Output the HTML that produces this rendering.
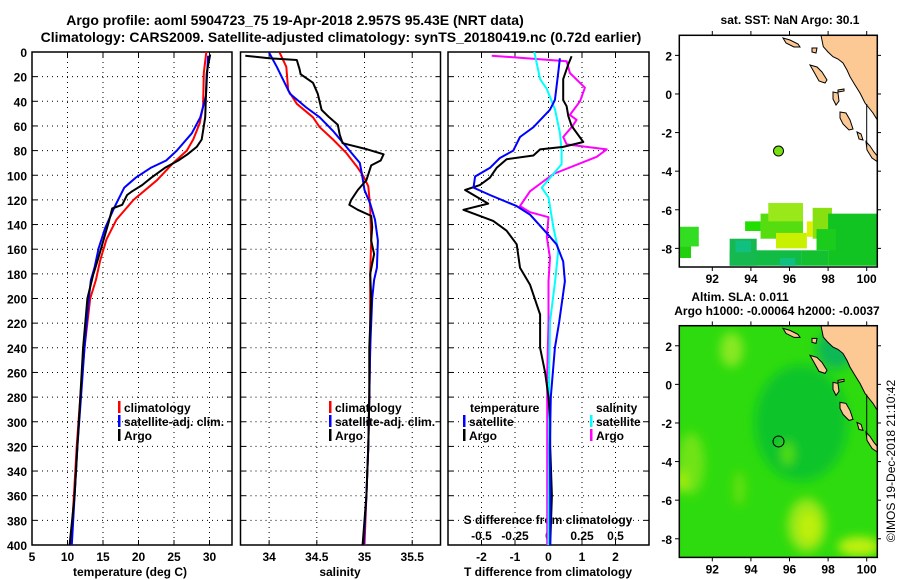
<!DOCTYPE html>
<html><head><meta charset="utf-8"><style>
html,body{margin:0;padding:0;background:#fff}
svg{display:block;font-family:"Liberation Sans",sans-serif;font-weight:bold}
</style></head><body>
<svg id="c" width="900" height="580" viewBox="0 0 900 580" xmlns="http://www.w3.org/2000/svg">
<text x="295" y="25" font-size="14" text-anchor="middle">Argo profile: aoml 5904723_75 19-Apr-2018 2.957S 95.43E (NRT data)</text>
<text x="341" y="42" font-size="14" text-anchor="middle">Climatology: CARS2009. Satellite-adjusted climatology: synTS_20180419.nc (0.72d earlier)</text>
<g id="g"></g>
</svg>
<script>
// ---------- data ----------
const depthTicks=[0,20,40,60,80,100,120,140,160,180,200,220,240,260,280,300,320,340,360,380,400];
const tempTicks=[5,10,15,20,25,30];
const salTicks=[34,34.5,35,35.5];
const dTTicks=[-2,-1,0,1,2];
const dSTicks=[-0.5,-0.25,0,0.25,0.5];
const dSTickLabels=["-0.5","-0.25","0","0.25","0.5"];
const latTicks=[2,0,-2,-4,-6,-8];
const lonTicks=[92,94,96,98,100];

const climDepth=[0,17,44,58,71,80,90,104,120,136,152,169,185,200,240,280,320,360,400];
const climTemp=[29.55,29.2,29.1,28.6,27.7,26.8,24.9,22.6,19.3,16.9,15.5,14.6,14.0,13.2,12.4,11.8,11.3,10.9,10.5];
const satDepth=[3,36,53,66,80,88,94,102,110,126,143,159,175,185,200,240,280,320,360,400];
const satTemp=[29.8,29.5,28.7,27.5,25.4,23.9,21.7,19.6,18.0,16.6,15.3,14.4,13.8,13.3,13.0,12.4,11.9,11.4,11.0,10.6];
const argoDepthT=[2,17,53,71,77,83,88,94,102,108,113,116,124,127,138,156,170,181,200,240,280,320,360,400];
const argoTemp=[30.1,29.6,29.4,28.9,28.2,26.9,25.6,23.7,21.8,20.5,19.1,18.4,17.7,16.3,15.8,14.9,14.2,13.6,12.8,12.2,11.8,11.4,11.0,10.3];

const climSDepth=[0.5,12,31,42,53,61,71,82,93,101,109,126,153,180,200,240,280,320,360,400];
const climSal=[34.11,34.18,34.20,34.29,34.46,34.53,34.67,34.81,34.92,34.99,35.04,35.06,35.07,35.06,35.06,35.06,35.05,35.04,35.02,35.0];
const satSDepth=[0.5,12,23,34,45,53,64,77,90,98,112,123,136,153,175,185,200,240,280,320,360,400];
const satSal=[34.0,34.08,34.15,34.22,34.39,34.53,34.67,34.81,34.95,34.97,35.0,35.06,35.11,35.14,35.13,35.1,35.08,35.06,35.05,35.04,35.02,34.99];
const argoSDepth=[3,5,6.5,14,18,25,34,47,53,59,67,74,79,83,88,92,104,112,120,124,128,133,142,153,164,180,200,240,280,320,360,400];
const argoSal=[33.75,34.0,34.29,34.32,34.33,34.46,34.51,34.55,34.63,34.72,34.74,34.77,35.03,35.20,35.17,35.07,35.02,34.93,34.86,34.84,34.93,35.07,35.08,35.07,35.1,35.06,35.07,35.05,35.05,35.04,35.02,34.98];

const dTsatDepth=[5,17,39,47,61,69,80,86,94,101,110,116,125,132,147,156,170,186,205,219,240,280,320,360,400];
const dTsat=[0.34,0.29,0.19,0.04,-0.45,-0.85,-1.05,-1.45,-1.75,-2.19,-2.24,-1.75,-0.95,-0.55,-0.05,0.24,0.44,0.49,0.39,0.32,0.19,0.07,0.04,0.05,0.05];
const dTargoDepth=[3.5,10,22,39,44,52,60,73,77,79,84,87,94,102,108,112,123,128,132,137,145,156,175,189,213,240,260,280,300,320,360,400];
const dTargo=[0.69,0.59,0.44,0.44,0.54,0.59,0.69,1.04,0.44,-0.25,-0.45,-1.25,-1.55,-1.75,-2.05,-2.49,-1.8,-2.54,-2.15,-1.65,-1.25,-0.95,-0.85,-0.55,-0.25,-0.25,-0.1,0,0.05,0.05,0.1,0.05];
const dSsatDepth=[0,22,30,47,66,80,91,99,110,118,142,161,186,219,260,300,340,400];
const dSsat=[-0.106,-0.063,-0.013,0.049,0.086,0.098,0.098,0.036,-0.051,0,0.036,0.073,0.049,0.011,0.005,0.003,0.002,0.0];
const dSargoDepth=[3,7.5,17,29,40,51,55,60,69,75,79,85,99,113,125,130,134,150,167,186,219,260,300,340,400];
const dSargo=[-0.424,0.136,0.16,0.272,0.235,0.16,0.21,0.18,0.11,0.136,0.434,0.36,0.036,-0.138,-0.213,-0.138,0,-0.013,0.011,0,0,-0.01,-0.01,-0.01,-0.01];

// SST cells: lon0, lat0, lon1, lat1, colour
const sstCells=[
 [90.29,-6.88,91.3,-7.9,"#33dd22"],[90.29,-7.9,90.9,-8.5,"#22d010"],
 [92.9,-8.1,96.6,-8.9,"#11bb44"],[92.9,-7.5,94.3,-8.9,"#16b850"],[93.2,-7.6,94.0,-8.2,"#10c080"],
 [93.7,-6.6,94.5,-7.1,"#22dd00"],[94.5,-6.2,96.7,-7.5,"#55dd10"],
 [94.9,-5.65,96.7,-6.6,"#99e81a"],[95.3,-7.2,96.9,-8.0,"#c8f000"],
 [97.2,-5.9,98.2,-7.5,"#88e010"],[96.9,-6.6,97.2,-7.4,"#e0f000"],
 [98.0,-6.2,100.55,-8.9,"#11c422"],[96.6,-8.1,98.0,-8.9,"#12c030"],
 [95.5,-8.5,96.3,-8.9,"#10c080"],[97.4,-7.0,98.4,-8.1,"#1ccc1c"]
];
// SLA blobs: lon, lat, rx(deg), ry(deg), colour
const slaBlobs=[
 [96.6,-2.0,2.4,3.0,"#11c52a"],[98.4,1.8,1.0,1.0,"#10b855"],
 [93.0,1.8,0.6,0.9,"#88e822"],[90.9,-4.1,0.7,1.6,"#70e313"],[90.4,-5.0,0.3,0.6,"#a8ee10"],
 [93.4,-5.4,0.3,0.9,"#66e010"],[95.9,-3.6,0.3,0.6,"#55e010"],
 [96.9,-7.3,1.0,1.4,"#99e812"],[97.0,-7.4,0.5,0.8,"#bff010"],[99.6,-8.4,1.1,0.5,"#c0f010"]
];

// ---------- scales ----------
const dy=d=>52+d*1.2325;
const tx=t=>32+(t-5)*7.1;
const sx=s=>240.5+(s-33.70)*95.4;
const dtx=v=>548.5+v*33.5;
const dsx=v=>548.5+v*134;
const lonx=l=>679.3+(l-90.29)*19.3;
const laty=(l,off)=>35.3+off+(3.04-l)*19.3;
const MW=198, MH=231.7;

const NS="http://www.w3.org/2000/svg";
const G=document.getElementById('g');
function mk(tag,attrs,parent){const e=document.createElementNS(NS,tag);for(const k in attrs)e.setAttribute(k,attrs[k]);(parent||G).appendChild(e);return e;}
function txt(x,y,s,size,anchor,name){const e=mk('text',{x:x,y:y,'font-size':size,'text-anchor':anchor});e.textContent=s;


return e;}

// ---------- profile panels ----------
const panels=[{x0:32,x1:232,name:'temperature-panel'},{x0:240.5,x1:440.5,name:'salinity-panel'},{x0:448,x1:649,name:'difference-panel'}];
const grids=[tempTicks.slice(1).map(tx),salTicks.map(sx),dTTicks.map(dtx)];
panels.forEach((p,i)=>{
  const g=mk('g',{});
  
  
  depthTicks.forEach(d=>{
    if(d>0&&d<400) mk('line',{x1:p.x0,x2:p.x1,y1:dy(d),y2:dy(d),stroke:'#000','stroke-width':1,'stroke-dasharray':'1,4'},g);
    mk('line',{x1:p.x0,x2:p.x0+5,y1:dy(d),y2:dy(d),stroke:'#000'},g);
    mk('line',{x1:p.x1-5,x2:p.x1,y1:dy(d),y2:dy(d),stroke:'#000'},g);
  });
  grids[i].forEach(x=>{
    mk('line',{x1:x,x2:x,y1:52,y2:545,stroke:'#000','stroke-width':1,'stroke-dasharray':'1,4'},g);
    mk('line',{x1:x,x2:x,y1:52,y2:57,stroke:'#000'},g);
    mk('line',{x1:x,x2:x,y1:540,y2:545,stroke:'#000'},g);
  });
  mk('rect',{x:p.x0,y:52,width:p.x1-p.x0,height:493,fill:'none',stroke:'#000','stroke-width':1.5},g);
});
depthTicks.forEach(d=>txt(27,dy(d)+5,String(d),12,'end','depth-tick-label'));
tempTicks.forEach(t=>txt(tx(t),561,String(t),12,'middle','temperature-tick-label'));
salTicks.forEach(s=>txt(sx(s),561,String(s),12,'middle','salinity-tick-label'));
dTTicks.forEach(v=>txt(dtx(v),561,String(v),12,'middle','t-diff-tick-label'));
dSTicks.forEach((v,i)=>txt(dsx(v),540,dSTickLabels[i],12,'middle','s-diff-tick-label'));
txt(130,576,'temperature (deg C)',12,'middle','temperature-axis-title');
txt(340,576,'salinity',12,'middle','salinity-axis-title');
txt(548,576,'T difference from climatology',12,'middle','t-diff-axis-title');
txt(548,524,'S difference from climatology',12,'middle','s-diff-axis-title');

function series(xs,ds,fx,color,name){
  const pts=xs.map((v,i)=>fx(v).toFixed(1)+','+dy(ds[i]).toFixed(1)).join(' ');
  const e=mk('polyline',{points:pts,fill:'none',stroke:color,'stroke-width':2,'stroke-linejoin':'round'});
  
  
}
series(climTemp,climDepth,tx,'#ff0000','climatology-temperature-line');
series(satTemp,satDepth,tx,'#0000ff','satellite-temperature-line');
series(argoTemp,argoDepthT,tx,'#000000','argo-temperature-line');
series(climSal,climSDepth,sx,'#ff0000','climatology-salinity-line');
series(satSal,satSDepth,sx,'#0000ff','satellite-salinity-line');
series(argoSal,argoSDepth,sx,'#000000','argo-salinity-line');
series(dSargo,dSargoDepth,dsx,'#ff00ff','argo-s-diff-line');
series(dSsat,dSsatDepth,dsx,'#00ffff','satellite-s-diff-line');
series(dTargo,dTargoDepth,dtx,'#000000','argo-t-diff-line');
series(dTsat,dTsatDepth,dtx,'#0000ff','satellite-t-diff-line');

function legend(x,y,color,label,name){
  const g=mk('g',{});
  
  
  mk('rect',{x:x,y:y-11,width:2.5,height:12,fill:color},g);
  const t=mk('text',{x:x+6,y:y,'font-size':12},g);t.textContent=label;
}
legend(118,412,'#ff0000','climatology','legend-climatology-t');
legend(118,426,'#0000ff','satellite-adj. clim.','legend-satellite-t');
legend(118,440,'#000000','Argo','legend-argo-t');
legend(329,412,'#ff0000','climatology','legend-climatology-s');
legend(329,426,'#0000ff','satellite-adj. clim.','legend-satellite-s');
legend(329,440,'#000000','Argo','legend-argo-s');
txt(470,412,'temperature',12,'start','legend-temperature-header');
txt(596,412,'salinity',12,'start','legend-salinity-header');
legend(463,426,'#0000ff','satellite','legend-satellite-dt');
legend(463,440,'#000000','Argo','legend-argo-dt');
legend(590,426,'#00ffff','satellite','legend-satellite-ds');
legend(590,440,'#ff00ff','Argo','legend-argo-ds');

// ---------- maps ----------
function land(off,g){
  const P=(a)=>a.map(p=>p[0]+','+(p[1]+off)).join(' ');
  const st={fill:'#fcc994',stroke:'#000','stroke-width':1};
  const poly=(a)=>{const e=mk('polygon',Object.assign({points:P(a)},st),g);return e;};
  poly([[821,35.3],[823.3,46.7],[828,52],[833,56.7],[838,59],[843,63],[847,70],[850,76.7],[855,85],[860,93],[865,103],[869,108],[873,113],[877.3,120],[877.3,35.3]]);
  poly([[866,141.7],[870,146],[874,152],[877.3,156],[877.3,161.7],[872,158],[867,150]]);
  poly([[783,38],[790,40],[798,44],[800,47],[794,47],[786,43]]);
  poly([[810,65],[817,67],[822,72],[827,80],[825,83],[819,81],[814,72]]);
  poly([[840,112],[846,113],[850,120],[853,129],[849,130],[843,124],[840,118]]);
  poly([[833,92],[838,93],[839,101],[836,105],[833,99]]);
  poly([[857,132],[861,134],[863,140],[859,139]]);
  poly([[838,90],[844,89],[844,91],[838,92]]);
  poly([[812,48],[817,48],[816,53],[812,52]]);
  mk('line',{x1:866.7,x2:866.7,y1:104+off,y2:146.7+off,stroke:'#000'},g);
}
function mapGroup(name){
  const g=mk('g',{});
  
  
  return g;
}
function mapAxes(off,g){
  mk('rect',{x:679.3,y:35.3+off,width:MW,height:MH,fill:'none',stroke:'#000','stroke-width':1.5},g);
  latTicks.forEach(l=>{
    const y=laty(l,off);
    mk('line',{x1:675,x2:679.3,y1:y,y2:y,stroke:'#000'},g);
    mk('line',{x1:877.3,x2:881,y1:y,y2:y,stroke:'#000'},g);
    txt(672,y+5,String(l),12,'end','latitude-tick-label');
  });
  lonTicks.forEach(l=>{
    const x=lonx(l);
    mk('line',{x1:x,x2:x,y1:35.3+MH+off,y2:35.3+MH+4+off,stroke:'#000'},g);
    mk('line',{x1:x,x2:x,y1:31+off,y2:35.3+off,stroke:'#000'},g);
    txt(x,283+off,String(l),12,'middle','longitude-tick-label');
  });
}
// top SST map
const gm1=mapGroup('sst-map');
sstCells.forEach(c=>{
  const r=mk('rect',{x:lonx(c[0]),y:laty(c[1],0),width:lonx(c[2])-lonx(c[0]),height:laty(c[3],0)-laty(c[1],0),fill:c[4]},gm1);
  
  
});
land(0,gm1);
const f1=mk('circle',{cx:lonx(95.43),cy:laty(-2.957,0),r:5,fill:'#77e010',stroke:'#000','stroke-width':1},gm1);


mapAxes(0,gm1);
txt(790,24,'sat. SST: NaN Argo: 30.1',12,'middle','sst-map-title');

// bottom SLA map
const off2=290.4;
const gm2=mapGroup('sla-map');
mk('defs',{},gm2).innerHTML='<clipPath id="mc"><rect x="679.3" y="325.7" width="198" height="231.7"/></clipPath><filter id="bl"><feGaussianBlur stdDeviation="5"/></filter>';
const gc=mk('g',{'clip-path':'url(#mc)'},gm2);
mk('rect',{x:679.3,y:325.7,width:MW,height:MH,fill:'#2edb0e'},gc);
const gb=mk('g',{filter:'url(#bl)'},gc);
slaBlobs.forEach(b=>{
  const e=mk('ellipse',{cx:lonx(b[0]),cy:laty(b[1],off2),rx:b[2]*19.3,ry:b[3]*19.3,fill:b[4]},gb);
  
  
});
land(off2,gm2);
const f2=mk('circle',{cx:lonx(95.43),cy:laty(-2.957,off2),r:5.5,fill:'none',stroke:'#000','stroke-width':1},gm2);


mapAxes(off2,gm2);
txt(740,301,'Altim. SLA: 0.011',12,'middle','sla-map-title');
txt(777,315,'Argo h1000: -0.00064 h2000: -0.0037',12,'middle','sla-map-subtitle');
const cr=txt(0,0,'©IMOS 19-Dec-2018 21:10:42',12,'middle','copyright-timestamp');
cr.setAttribute('transform','translate(895,461) rotate(-90)');
cr.setAttribute('font-weight','normal');
</script>
</body></html>
